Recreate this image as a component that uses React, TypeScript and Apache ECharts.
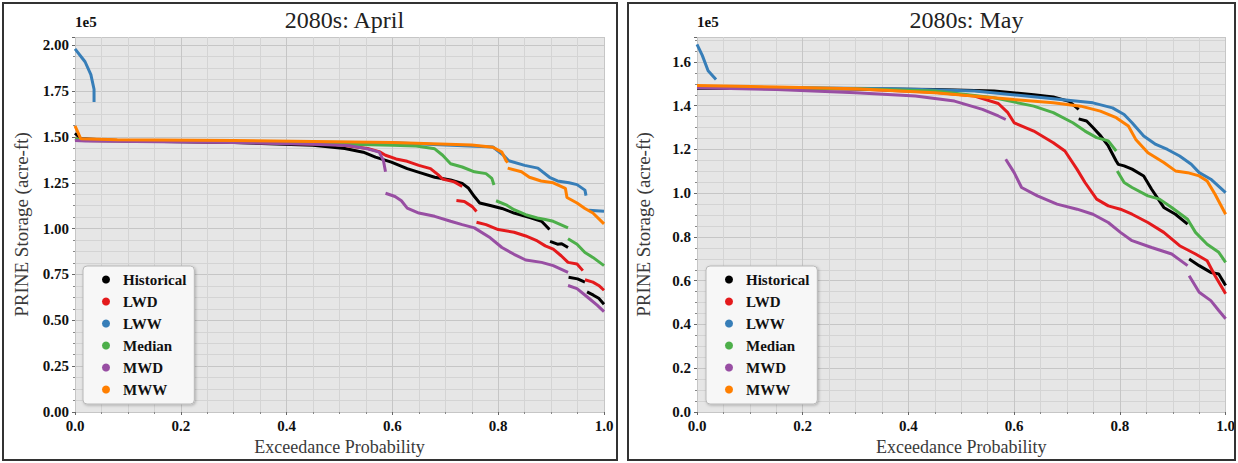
import React, { useEffect, useRef } from "react";
import * as echarts from "echarts";

// Values: exceedance probability, storage in units of 1e5 acre-ft. Each series is a list of segments.
type Pt = [number, number];

const seriesNames = ["Historical", "LWD", "LWW", "Median", "MWD", "MWW"];
const seriesColors = ["#000000", "#e41a1c", "#377eb8", "#4daf4a", "#984ea3", "#ff7f00"];

const xTicks = [0, 0.2, 0.4, 0.6, 0.8, 1.0];
const aprYTicks = [0, 0.25, 0.5, 0.75, 1.0, 1.25, 1.5, 1.75, 2.0];
const mayYTicks = [0, 0.2, 0.4, 0.6, 0.8, 1.0, 1.2, 1.4, 1.6];

const aprHistorical: Pt[][] = [
  [[0, 1.52], [0.011, 1.49], [0.1, 1.478], [0.3, 1.47], [0.45, 1.455], [0.51, 1.437], [0.545, 1.417], [0.568, 1.39], [0.598, 1.363], [0.628, 1.327], [0.658, 1.3], [0.68, 1.28], [0.71, 1.265], [0.732, 1.247], [0.744, 1.22], [0.755, 1.175], [0.765, 1.14], [0.785, 1.126], [0.807, 1.11], [0.83, 1.085], [0.86, 1.06], [0.882, 1.04], [0.897, 0.995]],
  [[0.898, 0.93], [0.912, 0.915], [0.92, 0.918], [0.932, 0.897]],
  [[0.933, 0.735], [0.95, 0.726], [0.964, 0.708]],
  [[0.968, 0.655], [0.98, 0.637], [0.99, 0.62], [1.0, 0.588]],
];
const aprLWD: Pt[][] = [
  [[0, 1.49], [0.02, 1.48], [0.3, 1.472], [0.5, 1.458], [0.553, 1.437], [0.575, 1.42], [0.587, 1.4], [0.607, 1.38], [0.628, 1.367], [0.65, 1.345], [0.672, 1.327], [0.688, 1.29], [0.695, 1.27], [0.717, 1.255], [0.732, 1.23]],
  [[0.721, 1.153], [0.736, 1.148], [0.751, 1.12], [0.759, 1.094]],
  [[0.759, 1.035], [0.777, 1.022], [0.8, 0.995], [0.83, 0.98], [0.852, 0.96], [0.874, 0.933], [0.889, 0.906], [0.904, 0.888], [0.919, 0.852], [0.932, 0.816], [0.949, 0.807], [0.96, 0.771]],
  [[0.964, 0.721], [0.979, 0.708], [0.99, 0.69], [1.0, 0.664]],
];
const aprLWW: Pt[][] = [
  [[0, 1.98], [0.019, 1.91], [0.03, 1.84], [0.036, 1.76], [0.036, 1.69]],
  [[0.04, 1.48], [0.3, 1.475], [0.6, 1.468], [0.79, 1.445], [0.81, 1.4], [0.82, 1.37], [0.85, 1.345], [0.875, 1.33], [0.897, 1.28], [0.912, 1.26], [0.934, 1.25], [0.949, 1.24], [0.964, 1.21], [0.966, 1.18]],
  [[0.971, 1.1], [1.0, 1.095]],
];
const aprMedian: Pt[][] = [
  [[0, 1.49], [0.02, 1.48], [0.3, 1.474], [0.5, 1.462], [0.6, 1.455], [0.645, 1.45], [0.68, 1.435], [0.695, 1.4], [0.71, 1.354], [0.732, 1.336], [0.755, 1.31], [0.777, 1.3], [0.788, 1.274], [0.792, 1.238]],
  [[0.796, 1.152], [0.815, 1.13], [0.83, 1.103], [0.852, 1.076], [0.874, 1.058], [0.889, 1.05], [0.904, 1.04], [0.932, 1.004]],
  [[0.932, 0.945], [0.949, 0.915], [0.964, 0.87], [0.979, 0.843], [1.0, 0.798]],
];
const aprMWD: Pt[][] = [
  [[0, 1.48], [0.02, 1.478], [0.3, 1.47], [0.45, 1.46], [0.516, 1.453], [0.553, 1.435], [0.575, 1.417], [0.583, 1.372], [0.587, 1.31]],
  [[0.587, 1.193], [0.605, 1.175], [0.617, 1.152], [0.628, 1.112], [0.65, 1.085], [0.68, 1.067], [0.71, 1.04], [0.732, 1.022], [0.755, 1.004], [0.785, 0.95], [0.807, 0.897], [0.83, 0.86], [0.852, 0.829], [0.882, 0.816], [0.904, 0.798], [0.932, 0.762]],
  [[0.932, 0.69], [0.949, 0.673], [0.972, 0.619], [0.987, 0.583], [1.0, 0.547]],
];
const aprMWW: Pt[][] = [
  [[0, 1.56], [0.011, 1.49], [0.08, 1.485], [0.3, 1.48], [0.6, 1.47], [0.75, 1.456], [0.79, 1.444], [0.807, 1.417], [0.815, 1.37], [0.818, 1.36]],
  [[0.818, 1.33], [0.844, 1.31], [0.859, 1.28], [0.881, 1.26], [0.904, 1.25], [0.927, 1.22], [0.93, 1.17], [0.949, 1.14], [0.964, 1.11], [0.979, 1.085], [1.0, 1.026]],
];

const mayHistorical: Pt[][] = [
  [[0, 1.48], [0.3, 1.478], [0.45, 1.474], [0.562, 1.467], [0.637, 1.45], [0.674, 1.44], [0.704, 1.42], [0.722, 1.383]],
  [[0.722, 1.34], [0.737, 1.33], [0.749, 1.3], [0.764, 1.261], [0.778, 1.216], [0.793, 1.147], [0.797, 1.132], [0.808, 1.125], [0.823, 1.11], [0.845, 1.079], [0.86, 1.018], [0.883, 0.935], [0.905, 0.904], [0.928, 0.859]],
  [[0.931, 0.699], [0.95, 0.669], [0.972, 0.638], [0.987, 0.631], [1.0, 0.578]],
];
const mayLWD: Pt[][] = [
  [[0, 1.485], [0.3, 1.476], [0.45, 1.462], [0.525, 1.444], [0.57, 1.41], [0.588, 1.368], [0.6, 1.322], [0.637, 1.284], [0.674, 1.231], [0.696, 1.193], [0.719, 1.109], [0.734, 1.049], [0.756, 0.973], [0.778, 0.942], [0.801, 0.927], [0.823, 0.904], [0.853, 0.866], [0.883, 0.821], [0.913, 0.76], [0.943, 0.722], [0.965, 0.691], [0.98, 0.623], [1.0, 0.54]],
];
const mayLWW: Pt[][] = [
  [[0, 1.68], [0.01, 1.63], [0.021, 1.56], [0.036, 1.52]],
  [[0.04, 1.485], [0.2, 1.482], [0.375, 1.477], [0.525, 1.467], [0.674, 1.432], [0.749, 1.413], [0.786, 1.39], [0.808, 1.36], [0.823, 1.322], [0.845, 1.261], [0.868, 1.223], [0.89, 1.2], [0.913, 1.17], [0.935, 1.132], [0.95, 1.094], [0.972, 1.064], [1.0, 1.003]],
];
const mayMedian: Pt[][] = [
  [[0, 1.485], [0.3, 1.478], [0.45, 1.467], [0.562, 1.436], [0.637, 1.398], [0.674, 1.368], [0.711, 1.322], [0.734, 1.284], [0.756, 1.254], [0.778, 1.239], [0.793, 1.193]],
  [[0.795, 1.102], [0.808, 1.049], [0.823, 1.026], [0.853, 0.988], [0.875, 0.973], [0.898, 0.935], [0.928, 0.881], [0.943, 0.821], [0.965, 0.767], [0.987, 0.73], [1.0, 0.684]],
];
const mayMWD: Pt[][] = [
  [[0, 1.482], [0.15, 1.474], [0.3, 1.459], [0.413, 1.444], [0.487, 1.421], [0.54, 1.383], [0.57, 1.353], [0.584, 1.337]],
  [[0.584, 1.155], [0.6, 1.094], [0.614, 1.026], [0.644, 0.988], [0.681, 0.95], [0.719, 0.927], [0.749, 0.904], [0.778, 0.866], [0.801, 0.821], [0.823, 0.783], [0.86, 0.752], [0.898, 0.722], [0.928, 0.669]],
  [[0.931, 0.623], [0.95, 0.547], [0.972, 0.509], [0.987, 0.464], [1.0, 0.426]],
];
const mayMWW: Pt[][] = [
  [[0, 1.492], [0.15, 1.486], [0.3, 1.477], [0.45, 1.459], [0.6, 1.428], [0.674, 1.413], [0.726, 1.398], [0.763, 1.375], [0.793, 1.345], [0.816, 1.307], [0.83, 1.246], [0.853, 1.185], [0.883, 1.14], [0.905, 1.102], [0.928, 1.094], [0.95, 1.079], [0.965, 1.056], [0.98, 0.995], [1.0, 0.904]],
];

const aprData = [aprHistorical, aprLWD, aprLWW, aprMedian, aprMWD, aprMWW];
const mayData = [mayHistorical, mayLWD, mayLWW, mayMedian, mayMWD, mayMWW];

const SERIF = "Liberation Serif";

function flatten(segs: Pt[][]): (number | null)[][] {
  const out: (number | null)[][] = [];
  segs.forEach((s, i) => {
    if (i > 0) out.push([s[0][0], null]);
    s.forEach((p) => out.push([p[0], p[1]]));
  });
  return out;
}

export default function App() {
  const ref = useRef<HTMLDivElement>(null);
  useEffect(() => {
    if (!ref.current) return;
    const chart = echarts.init(ref.current, undefined, { renderer: "svg" });

    const grids = [
      { left: 75, right: 634, top: 37, bottom: 51 },
      { left: 697, right: 12, top: 37, bottom: 51 },
    ];

    const makeX = (gi: number) => ({
      type: "value",
      gridIndex: gi,
      min: xTicks[0],
      max: xTicks[xTicks.length - 1],
      interval: 0.2,
      name: "Exceedance Probability",
      nameLocation: "middle",
      nameGap: 26,
      nameTextStyle: { fontFamily: SERIF, fontSize: 18, color: "#3a3a3a" },
      axisLine: { show: false },
      axisTick: { show: true, length: 3, lineStyle: { color: "#666" } },
      minorTick: { show: true, splitNumber: 4, length: 2, lineStyle: { color: "#888" } },
      axisLabel: {
        fontFamily: SERIF, fontSize: 15, fontWeight: "bold", color: "#111", margin: 6,
        formatter: (v: number) => v.toFixed(1),
      },
      splitLine: { show: true, lineStyle: { color: "#c6c6c6", width: 1 } },
      minorSplitLine: { show: true, lineStyle: { color: "#d4d4d4", width: 1 } },
    });

    const makeY = (gi: number, ticks: number[], max: number, dec: number) => ({
      type: "value",
      gridIndex: gi,
      min: ticks[0],
      max,
      interval: ticks[1] - ticks[0],
      name: "PRINE Storage (acre-ft)",
      nameLocation: "middle",
      nameGap: 44,
      nameTextStyle: { fontFamily: SERIF, fontSize: 19, color: "#3a3a3a" },
      axisLine: { show: false },
      axisTick: { show: true, length: 3, lineStyle: { color: "#666" } },
      minorTick: { show: true, splitNumber: 4, length: 2, lineStyle: { color: "#888" } },
      axisLabel: {
        fontFamily: SERIF, fontSize: 15, fontWeight: "bold", color: "#111", margin: 6,
        showMaxLabel: false,
        formatter: (v: number) => v.toFixed(dec),
      },
      splitLine: { show: true, lineStyle: { color: "#c6c6c6", width: 1 } },
      minorSplitLine: { show: true, lineStyle: { color: "#d4d4d4", width: 1 } },
    });

    const series: any[] = [];
    [aprData, mayData].forEach((panel, gi) => {
      panel.forEach((segs, i) => {
        series.push({
          type: "line",
          name: seriesNames[i],
          xAxisIndex: gi,
          yAxisIndex: gi,
          data: flatten(segs),
          showSymbol: false,
          connectNulls: false,
          color: seriesColors[i],
          lineStyle: { width: 3, color: seriesColors[i] },
          z: 2 + i,
        });
      });
    });

    const makeLegend = (left: number) => ({
      show: true,
      orient: "vertical",
      left,
      top: 266,
      data: seriesNames.map((n) => ({ name: n, icon: "circle" })),
      itemWidth: 8,
      itemHeight: 8,
      itemGap: 7,
      padding: [6, 8, 7, 19],
      backgroundColor: "#f7f7f7",
      borderColor: "#b8b8b8",
      borderWidth: 1,
      borderRadius: 4,
      shadowBlur: 3,
      shadowColor: "rgba(0,0,0,0.25)",
      shadowOffsetX: 1,
      shadowOffsetY: 1,
      selectedMode: false,
      textStyle: { fontFamily: SERIF, fontSize: 15, fontWeight: "bold", color: "#111", padding: [0, 0, 0, 8] },
    });

    chart.setOption({
      animation: false,
      backgroundColor: "#ffffff",
      title: [
        { text: "2080s: April", left: 339.5, top: 3, textAlign: "center", textStyle: { fontFamily: SERIF, fontSize: 24, fontWeight: "normal", color: "#222" } },
        { text: "2080s: May", left: 961.5, top: 3, textAlign: "center", textStyle: { fontFamily: SERIF, fontSize: 24, fontWeight: "normal", color: "#222" } },
      ],
      grid: grids.map((g) => ({ ...g, show: true, backgroundColor: "#e6e6e6", borderWidth: 0 })),
      xAxis: [makeX(0), makeX(1)],
      yAxis: [makeY(0, aprYTicks, 2.045, 2), makeY(1, mayYTicks, 1.714, 1)],
      legend: [makeLegend(83), makeLegend(706)],
      series,
      graphic: [
        { type: "rect", shape: { x: 3, y: 3, width: 614, height: 457 }, style: { fill: "none", stroke: "#333", lineWidth: 2 }, z: 100 },
        { type: "rect", shape: { x: 628, y: 3, width: 607, height: 457 }, style: { fill: "none", stroke: "#333", lineWidth: 2 }, z: 100 },
        { type: "text", x: 75, y: 14, style: { text: "1e5", fontFamily: SERIF, fontSize: 15, fontWeight: "bold", fill: "#111" }, z: 100 },
        { type: "text", x: 697, y: 14, style: { text: "1e5", fontFamily: SERIF, fontSize: 15, fontWeight: "bold", fill: "#111" }, z: 100 },
      ],
    });
    return () => chart.dispose();
  }, []);
  return <div ref={ref} style={{ position: "fixed", left: 0, top: 0, width: 1238, height: 463 }} />;
}
